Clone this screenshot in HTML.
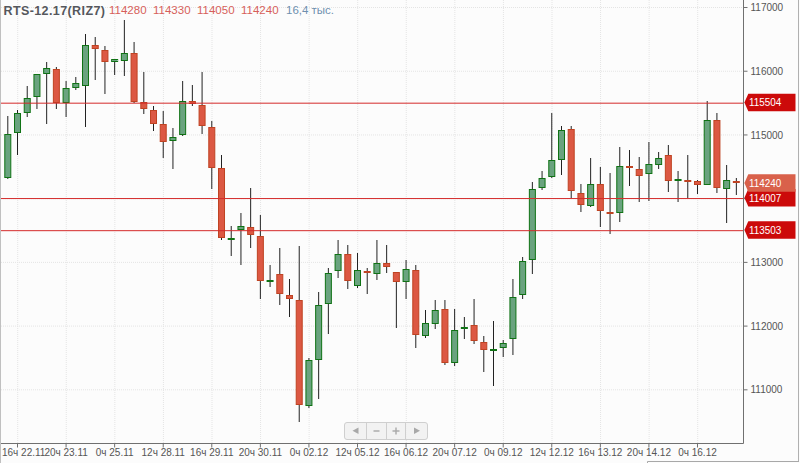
<!DOCTYPE html>
<html><head><meta charset="utf-8"><style>
html,body{margin:0;padding:0;background:#fcfcfc;width:800px;height:463px;overflow:hidden}
svg{position:absolute;left:0;top:0;display:block}
.hdr span{position:absolute;font-family:"Liberation Sans",sans-serif;white-space:nowrap;line-height:1}
.t{left:3.5px;top:4.5px;font-size:12.5px;letter-spacing:0.4px;font-weight:bold;color:#55575c;text-shadow:0 0 2px #fff,0 0 2px #fff}
.r{top:5px;font-size:11.5px;color:#d65f5a;text-shadow:0 0 2px #fff}
.v{top:5px;font-size:11.5px;color:#6e8fae;text-shadow:0 0 2px #fff}
</style></head><body>
<svg width="800" height="463" viewBox="0 0 800 463"><g stroke="#e4e4e4" stroke-width="1" stroke-dasharray="1,1"><line x1="17.71" y1="0" x2="17.71" y2="443" /><line x1="66.28" y1="0" x2="66.28" y2="443" /><line x1="114.85" y1="0" x2="114.85" y2="443" /><line x1="163.42" y1="0" x2="163.42" y2="443" /><line x1="211.99" y1="0" x2="211.99" y2="443" /><line x1="260.56" y1="0" x2="260.56" y2="443" /><line x1="309.13" y1="0" x2="309.13" y2="443" /><line x1="357.70" y1="0" x2="357.70" y2="443" /><line x1="406.27" y1="0" x2="406.27" y2="443" /><line x1="454.84" y1="0" x2="454.84" y2="443" /><line x1="503.41" y1="0" x2="503.41" y2="443" /><line x1="551.98" y1="0" x2="551.98" y2="443" /><line x1="600.55" y1="0" x2="600.55" y2="443" /><line x1="649.12" y1="0" x2="649.12" y2="443" /><line x1="697.69" y1="0" x2="697.69" y2="443" /><line x1="1" y1="389.82" x2="743.5" y2="389.82" /><line x1="1" y1="326.10" x2="743.5" y2="326.10" /><line x1="1" y1="262.38" x2="743.5" y2="262.38" /><line x1="1" y1="198.66" x2="743.5" y2="198.66" /><line x1="1" y1="134.94" x2="743.5" y2="134.94" /><line x1="1" y1="71.22" x2="743.5" y2="71.22" /><line x1="1" y1="7.50" x2="743.5" y2="7.50" /></g>
<g stroke="#222222" stroke-width="1"><line x1="7.80" y1="116" x2="7.80" y2="179" /><line x1="17.51" y1="110" x2="17.51" y2="155" /><line x1="27.23" y1="86" x2="27.23" y2="117" /><line x1="36.94" y1="74" x2="36.94" y2="109" /><line x1="46.66" y1="62" x2="46.66" y2="124" /><line x1="56.37" y1="67" x2="56.37" y2="109" /><line x1="66.08" y1="81" x2="66.08" y2="117" /><line x1="75.80" y1="77" x2="75.80" y2="90" /><line x1="85.51" y1="34" x2="85.51" y2="127" /><line x1="95.23" y1="37" x2="95.23" y2="80" /><line x1="104.94" y1="46" x2="104.94" y2="94" /><line x1="114.65" y1="59" x2="114.65" y2="75" /><line x1="124.37" y1="20" x2="124.37" y2="76" /><line x1="134.08" y1="42" x2="134.08" y2="103" /><line x1="143.80" y1="72" x2="143.80" y2="114" /><line x1="153.51" y1="106" x2="153.51" y2="131" /><line x1="163.22" y1="111" x2="163.22" y2="158" /><line x1="172.94" y1="128" x2="172.94" y2="169" /><line x1="182.65" y1="81" x2="182.65" y2="136" /><line x1="192.37" y1="85" x2="192.37" y2="106" /><line x1="202.08" y1="72" x2="202.08" y2="134" /><line x1="211.79" y1="121" x2="211.79" y2="189" /><line x1="221.51" y1="155" x2="221.51" y2="240" /><line x1="231.22" y1="226" x2="231.22" y2="256" /><line x1="240.94" y1="213" x2="240.94" y2="265" /><line x1="250.65" y1="188" x2="250.65" y2="248" /><line x1="260.36" y1="215" x2="260.36" y2="299" /><line x1="270.08" y1="265" x2="270.08" y2="287" /><line x1="279.79" y1="248" x2="279.79" y2="305" /><line x1="289.51" y1="279" x2="289.51" y2="317" /><line x1="299.22" y1="246" x2="299.22" y2="422" /><line x1="308.93" y1="358" x2="308.93" y2="408" /><line x1="318.65" y1="292" x2="318.65" y2="399" /><line x1="328.36" y1="268" x2="328.36" y2="334" /><line x1="338.08" y1="240" x2="338.08" y2="278" /><line x1="347.79" y1="245" x2="347.79" y2="289" /><line x1="357.50" y1="253" x2="357.50" y2="288" /><line x1="367.22" y1="268" x2="367.22" y2="294" /><line x1="376.93" y1="240" x2="376.93" y2="280" /><line x1="386.65" y1="245" x2="386.65" y2="273" /><line x1="396.36" y1="272" x2="396.36" y2="328" /><line x1="406.07" y1="260" x2="406.07" y2="299" /><line x1="415.79" y1="265" x2="415.79" y2="348" /><line x1="425.50" y1="310" x2="425.50" y2="338" /><line x1="435.22" y1="300" x2="435.22" y2="329" /><line x1="444.93" y1="300" x2="444.93" y2="365" /><line x1="454.64" y1="309" x2="454.64" y2="366" /><line x1="464.36" y1="317" x2="464.36" y2="339" /><line x1="474.07" y1="299" x2="474.07" y2="344" /><line x1="483.79" y1="336" x2="483.79" y2="372" /><line x1="493.50" y1="321" x2="493.50" y2="386" /><line x1="503.21" y1="340" x2="503.21" y2="357" /><line x1="512.93" y1="279" x2="512.93" y2="355" /><line x1="522.64" y1="257" x2="522.64" y2="299" /><line x1="532.36" y1="182" x2="532.36" y2="274" /><line x1="542.07" y1="171" x2="542.07" y2="190" /><line x1="551.78" y1="113" x2="551.78" y2="178" /><line x1="561.50" y1="126" x2="561.50" y2="175" /><line x1="571.21" y1="126" x2="571.21" y2="198" /><line x1="580.93" y1="184" x2="580.93" y2="212" /><line x1="590.64" y1="158" x2="590.64" y2="207" /><line x1="600.35" y1="167" x2="600.35" y2="227" /><line x1="610.07" y1="173" x2="610.07" y2="234" /><line x1="619.78" y1="147" x2="619.78" y2="222" /><line x1="629.50" y1="150" x2="629.50" y2="186" /><line x1="639.21" y1="157" x2="639.21" y2="202" /><line x1="648.92" y1="142" x2="648.92" y2="201" /><line x1="658.64" y1="152" x2="658.64" y2="169" /><line x1="668.35" y1="145" x2="668.35" y2="192" /><line x1="678.07" y1="171" x2="678.07" y2="202" /><line x1="687.78" y1="155" x2="687.78" y2="198" /><line x1="697.49" y1="180" x2="697.49" y2="194" /><line x1="707.21" y1="101" x2="707.21" y2="185" /><line x1="716.92" y1="113" x2="716.92" y2="193" /><line x1="726.64" y1="165" x2="726.64" y2="223" /><line x1="736.35" y1="178" x2="736.35" y2="195" /></g>
<g><rect x="4.80" y="134.5" width="6" height="43" fill="#6aa37f" stroke="#0f7214" stroke-width="1" /><rect x="14.51" y="113.5" width="6" height="19" fill="#6aa37f" stroke="#0f7214" stroke-width="1" /><rect x="24.23" y="98.5" width="6" height="14" fill="#6aa37f" stroke="#0f7214" stroke-width="1" /><rect x="33.94" y="74.5" width="6" height="22" fill="#6aa37f" stroke="#0f7214" stroke-width="1" /><rect x="43.66" y="68.5" width="6" height="5" fill="#6aa37f" stroke="#0f7214" stroke-width="1" /><rect x="53.37" y="69.5" width="6" height="33" fill="#dc5843" stroke="#bf4322" stroke-width="1" /><rect x="63.08" y="88.5" width="6" height="14" fill="#6aa37f" stroke="#0f7214" stroke-width="1" /><rect x="72.80" y="83.5" width="6" height="4" fill="#6aa37f" stroke="#0f7214" stroke-width="1" /><rect x="82.51" y="45.5" width="6" height="40" fill="#6aa37f" stroke="#0f7214" stroke-width="1" /><rect x="92.23" y="45.5" width="6" height="3" fill="#dc5843" stroke="#bf4322" stroke-width="1" /><rect x="101.94" y="50.5" width="6" height="11" fill="#dc5843" stroke="#bf4322" stroke-width="1" /><rect x="111.65" y="59.5" width="6" height="2" fill="#6aa37f" stroke="#0f7214" stroke-width="1" /><rect x="121.37" y="53.5" width="6" height="7" fill="#6aa37f" stroke="#0f7214" stroke-width="1" /><rect x="131.08" y="53.5" width="6" height="48" fill="#dc5843" stroke="#bf4322" stroke-width="1" /><rect x="140.80" y="102.5" width="6" height="6" fill="#dc5843" stroke="#bf4322" stroke-width="1" /><rect x="150.51" y="110.5" width="6" height="13" fill="#dc5843" stroke="#bf4322" stroke-width="1" /><rect x="160.22" y="124.5" width="6" height="17" fill="#dc5843" stroke="#bf4322" stroke-width="1" /><rect x="169.94" y="137.5" width="6" height="3" fill="#6aa37f" stroke="#0f7214" stroke-width="1" /><rect x="179.65" y="101.5" width="6" height="33" fill="#6aa37f" stroke="#0f7214" stroke-width="1" /><rect x="189.37" y="101.5" width="6" height="2" fill="#dc5843" stroke="#bf4322" stroke-width="1" /><rect x="199.08" y="105.5" width="6" height="20" fill="#dc5843" stroke="#bf4322" stroke-width="1" /><rect x="208.79" y="127.5" width="6" height="40" fill="#dc5843" stroke="#bf4322" stroke-width="1" /><rect x="218.51" y="168.5" width="6" height="69" fill="#dc5843" stroke="#bf4322" stroke-width="1" /><rect x="228.22" y="238.5" width="6" height="1" fill="#6aa37f" stroke="#0f7214" stroke-width="1" /><rect x="237.94" y="226.5" width="6" height="3" fill="#6aa37f" stroke="#0f7214" stroke-width="1" /><rect x="247.65" y="227.5" width="6" height="7" fill="#dc5843" stroke="#bf4322" stroke-width="1" /><rect x="257.36" y="236.5" width="6" height="44" fill="#dc5843" stroke="#bf4322" stroke-width="1" /><rect x="266.58" y="280" width="7" height="2" fill="#0f7214" /><rect x="276.79" y="274.5" width="6" height="19" fill="#dc5843" stroke="#bf4322" stroke-width="1" /><rect x="286.51" y="295.5" width="6" height="3" fill="#dc5843" stroke="#bf4322" stroke-width="1" /><rect x="296.22" y="300.5" width="6" height="104" fill="#dc5843" stroke="#bf4322" stroke-width="1" /><rect x="305.93" y="360.5" width="6" height="45" fill="#6aa37f" stroke="#0f7214" stroke-width="1" /><rect x="315.65" y="305.5" width="6" height="54" fill="#6aa37f" stroke="#0f7214" stroke-width="1" /><rect x="325.36" y="273.5" width="6" height="30" fill="#6aa37f" stroke="#0f7214" stroke-width="1" /><rect x="335.08" y="254.5" width="6" height="16" fill="#6aa37f" stroke="#0f7214" stroke-width="1" /><rect x="344.79" y="254.5" width="6" height="26" fill="#dc5843" stroke="#bf4322" stroke-width="1" /><rect x="354.50" y="270.5" width="6" height="15" fill="#6aa37f" stroke="#0f7214" stroke-width="1" /><rect x="363.72" y="271" width="7" height="2" fill="#bf4322" /><rect x="373.93" y="263.5" width="6" height="10" fill="#6aa37f" stroke="#0f7214" stroke-width="1" /><rect x="383.65" y="263.5" width="6" height="3" fill="#dc5843" stroke="#bf4322" stroke-width="1" /><rect x="393.36" y="272.5" width="6" height="9" fill="#dc5843" stroke="#bf4322" stroke-width="1" /><rect x="403.07" y="269.5" width="6" height="12" fill="#6aa37f" stroke="#0f7214" stroke-width="1" /><rect x="412.79" y="270.5" width="6" height="64" fill="#dc5843" stroke="#bf4322" stroke-width="1" /><rect x="422.50" y="323.5" width="6" height="12" fill="#6aa37f" stroke="#0f7214" stroke-width="1" /><rect x="432.22" y="310.5" width="6" height="13" fill="#6aa37f" stroke="#0f7214" stroke-width="1" /><rect x="441.93" y="309.5" width="6" height="53" fill="#dc5843" stroke="#bf4322" stroke-width="1" /><rect x="451.64" y="330.5" width="6" height="32" fill="#6aa37f" stroke="#0f7214" stroke-width="1" /><rect x="461.36" y="327.5" width="6" height="1" fill="#6aa37f" stroke="#0f7214" stroke-width="1" /><rect x="471.07" y="325.5" width="6" height="15" fill="#dc5843" stroke="#bf4322" stroke-width="1" /><rect x="480.79" y="342.5" width="6" height="7" fill="#dc5843" stroke="#bf4322" stroke-width="1" /><rect x="490.50" y="349.5" width="6" height="1" fill="#6aa37f" stroke="#0f7214" stroke-width="1" /><rect x="500.21" y="343.5" width="6" height="4" fill="#6aa37f" stroke="#0f7214" stroke-width="1" /><rect x="509.93" y="297.5" width="6" height="41" fill="#6aa37f" stroke="#0f7214" stroke-width="1" /><rect x="519.64" y="261.5" width="6" height="33" fill="#6aa37f" stroke="#0f7214" stroke-width="1" /><rect x="529.36" y="189.5" width="6" height="70" fill="#6aa37f" stroke="#0f7214" stroke-width="1" /><rect x="539.07" y="178.5" width="6" height="9" fill="#6aa37f" stroke="#0f7214" stroke-width="1" /><rect x="548.78" y="160.5" width="6" height="16" fill="#6aa37f" stroke="#0f7214" stroke-width="1" /><rect x="558.50" y="130.5" width="6" height="29" fill="#6aa37f" stroke="#0f7214" stroke-width="1" /><rect x="568.21" y="129.5" width="6" height="61" fill="#dc5843" stroke="#bf4322" stroke-width="1" /><rect x="577.93" y="193.5" width="6" height="11" fill="#dc5843" stroke="#bf4322" stroke-width="1" /><rect x="587.64" y="184.5" width="6" height="21" fill="#6aa37f" stroke="#0f7214" stroke-width="1" /><rect x="597.35" y="184.5" width="6" height="26" fill="#dc5843" stroke="#bf4322" stroke-width="1" /><rect x="606.57" y="212" width="7" height="2" fill="#bf4322" /><rect x="616.78" y="166.5" width="6" height="46" fill="#6aa37f" stroke="#0f7214" stroke-width="1" /><rect x="626.00" y="166" width="7" height="2" fill="#bf4322" /><rect x="636.21" y="169.5" width="6" height="6" fill="#dc5843" stroke="#bf4322" stroke-width="1" /><rect x="645.92" y="164.5" width="6" height="9" fill="#6aa37f" stroke="#0f7214" stroke-width="1" /><rect x="655.64" y="158.5" width="6" height="6" fill="#6aa37f" stroke="#0f7214" stroke-width="1" /><rect x="665.35" y="155.5" width="6" height="25" fill="#dc5843" stroke="#bf4322" stroke-width="1" /><rect x="675.07" y="179.5" width="6" height="1" fill="#6aa37f" stroke="#0f7214" stroke-width="1" /><rect x="684.28" y="180" width="7" height="2" fill="#bf4322" /><rect x="694.49" y="181.5" width="6" height="3" fill="#dc5843" stroke="#bf4322" stroke-width="1" /><rect x="704.21" y="120.5" width="6" height="64" fill="#6aa37f" stroke="#0f7214" stroke-width="1" /><rect x="713.92" y="120.5" width="6" height="67" fill="#dc5843" stroke="#bf4322" stroke-width="1" /><rect x="723.64" y="180.5" width="6" height="8" fill="#6aa37f" stroke="#0f7214" stroke-width="1" /><rect x="732.85" y="181" width="7" height="2" fill="#bf4322" /></g>
<line x1="1" y1="103.18" x2="743.5" y2="103.18" stroke="#d42a2a" stroke-width="1" />
<line x1="1" y1="198.56" x2="743.5" y2="198.56" stroke="#d42a2a" stroke-width="1" />
<line x1="1" y1="230.68" x2="743.5" y2="230.68" stroke="#d42a2a" stroke-width="1" />
<line x1="743.5" y1="0" x2="743.5" y2="443.5" stroke="#707070" stroke-width="1" />
<line x1="0" y1="443.5" x2="743.5" y2="443.5" stroke="#707070" stroke-width="1" />
<g stroke="#707070" stroke-width="1"><line x1="743.5" y1="389.82" x2="747.5" y2="389.82" /><line x1="743.5" y1="326.10" x2="747.5" y2="326.10" /><line x1="743.5" y1="262.38" x2="747.5" y2="262.38" /><line x1="743.5" y1="198.66" x2="747.5" y2="198.66" /><line x1="743.5" y1="134.94" x2="747.5" y2="134.94" /><line x1="743.5" y1="71.22" x2="747.5" y2="71.22" /><line x1="743.5" y1="7.50" x2="747.5" y2="7.50" /><line x1="17.51" y1="443.5" x2="17.51" y2="447.5" /><line x1="66.08" y1="443.5" x2="66.08" y2="447.5" /><line x1="114.65" y1="443.5" x2="114.65" y2="447.5" /><line x1="163.22" y1="443.5" x2="163.22" y2="447.5" /><line x1="211.79" y1="443.5" x2="211.79" y2="447.5" /><line x1="260.36" y1="443.5" x2="260.36" y2="447.5" /><line x1="308.93" y1="443.5" x2="308.93" y2="447.5" /><line x1="357.50" y1="443.5" x2="357.50" y2="447.5" /><line x1="406.07" y1="443.5" x2="406.07" y2="447.5" /><line x1="454.64" y1="443.5" x2="454.64" y2="447.5" /><line x1="503.21" y1="443.5" x2="503.21" y2="447.5" /><line x1="551.78" y1="443.5" x2="551.78" y2="447.5" /><line x1="600.35" y1="443.5" x2="600.35" y2="447.5" /><line x1="648.92" y1="443.5" x2="648.92" y2="447.5" /><line x1="697.49" y1="443.5" x2="697.49" y2="447.5" /></g>
<g font-family="Liberation Sans, sans-serif" font-size="10" fill="#555"><text x="750.5" y="393.42">111000</text><text x="750.5" y="329.70">112000</text><text x="750.5" y="265.98">113000</text><text x="750.5" y="138.54">115000</text><text x="750.5" y="74.82">116000</text><text x="750.5" y="11.10">117000</text></g>
<g font-family="Liberation Sans, sans-serif" font-size="10" fill="#555"><text x="2" y="456.3" text-anchor="start">16ч 22.11</text><text x="66.08" y="456.3" text-anchor="middle">20ч 23.11</text><text x="114.65" y="456.3" text-anchor="middle">0ч 25.11</text><text x="163.22" y="456.3" text-anchor="middle">12ч 28.11</text><text x="211.79" y="456.3" text-anchor="middle">16ч 29.11</text><text x="260.36" y="456.3" text-anchor="middle">20ч 30.11</text><text x="308.93" y="456.3" text-anchor="middle">0ч 02.12</text><text x="357.50" y="456.3" text-anchor="middle">12ч 05.12</text><text x="406.07" y="456.3" text-anchor="middle">16ч 06.12</text><text x="454.64" y="456.3" text-anchor="middle">20ч 07.12</text><text x="503.21" y="456.3" text-anchor="middle">0ч 09.12</text><text x="551.78" y="456.3" text-anchor="middle">12ч 12.12</text><text x="600.35" y="456.3" text-anchor="middle">16ч 13.12</text><text x="648.92" y="456.3" text-anchor="middle">20ч 14.12</text><text x="697.49" y="456.3" text-anchor="middle">0ч 16.12</text></g>
<polygon points="744.4,102.38 748.3,93.63 795.5,93.63 795.5,111.13 748.3,111.13" fill="#cc0a0a" /><text x="749.0" y="106.38" font-family="Liberation Sans, sans-serif" font-size="10" textLength="32.3" lengthAdjust="spacingAndGlyphs" fill="#fff">115504</text>
<polygon points="744.4,229.88 748.3,221.13 795.5,221.13 795.5,238.63 748.3,238.63" fill="#cc0a0a" /><text x="749.0" y="233.88" font-family="Liberation Sans, sans-serif" font-size="10" textLength="32.3" lengthAdjust="spacingAndGlyphs" fill="#fff">113503</text>
<polygon points="744.4,197.76 748.3,189.01 795.5,189.01 795.5,206.51 748.3,206.51" fill="#cc0a0a" /><text x="749.0" y="201.76" font-family="Liberation Sans, sans-serif" font-size="10" textLength="32.3" lengthAdjust="spacingAndGlyphs" fill="#fff">114007</text>
<polygon points="744.4,182.92 748.3,174.17 795.5,174.17 795.5,191.67 748.3,191.67" fill="#d9614b" /><text x="749.0" y="186.92" font-family="Liberation Sans, sans-serif" font-size="10" textLength="32.3" lengthAdjust="spacingAndGlyphs" fill="#fff">114240</text>
<g>
<rect x="344.5" y="422.5" width="83" height="17" rx="2.5" fill="#f0f0f0" fill-opacity="0.85" stroke="#cfcfcf" stroke-width="1"/>
<line x1="366.5" y1="423" x2="366.5" y2="439" stroke="#cfcfcf"/>
<line x1="386.5" y1="423" x2="386.5" y2="439" stroke="#cfcfcf"/>
<line x1="405.5" y1="423" x2="405.5" y2="439" stroke="#cfcfcf"/>
<polygon points="352.5,430.8 358.5,427.5 358.5,434.1" fill="#a8a8a8"/>
<rect x="373.5" y="430.3" width="6" height="1.4" fill="#a8a8a8"/>
<rect x="392.5" y="430.3" width="7" height="1.4" fill="#a8a8a8"/>
<rect x="395.3" y="427.5" width="1.4" height="7" fill="#a8a8a8"/>
<polygon points="420,430.8 414,427.5 414,434.1" fill="#a8a8a8"/>
</g>
<line x1="0.5" y1="0" x2="0.5" y2="463" stroke="#c0c0c0" stroke-width="1" />
<line x1="798.5" y1="0" x2="798.5" y2="462" stroke="#b0b0b0" stroke-width="1" />
<path d="M647.5,463 V461.5 H799" fill="none" stroke="#a8a8a8" stroke-width="1" /></svg>
<div class="hdr"><span class="t">RTS-12.17(RIZ7)</span><span class="r" style="left:109px">114280</span><span class="r" style="left:153px">114330</span><span class="r" style="left:197px">114050</span><span class="r" style="left:241px">114240</span><span class="v" style="left:286px">16,4 тыс.</span></div>
</body></html>
